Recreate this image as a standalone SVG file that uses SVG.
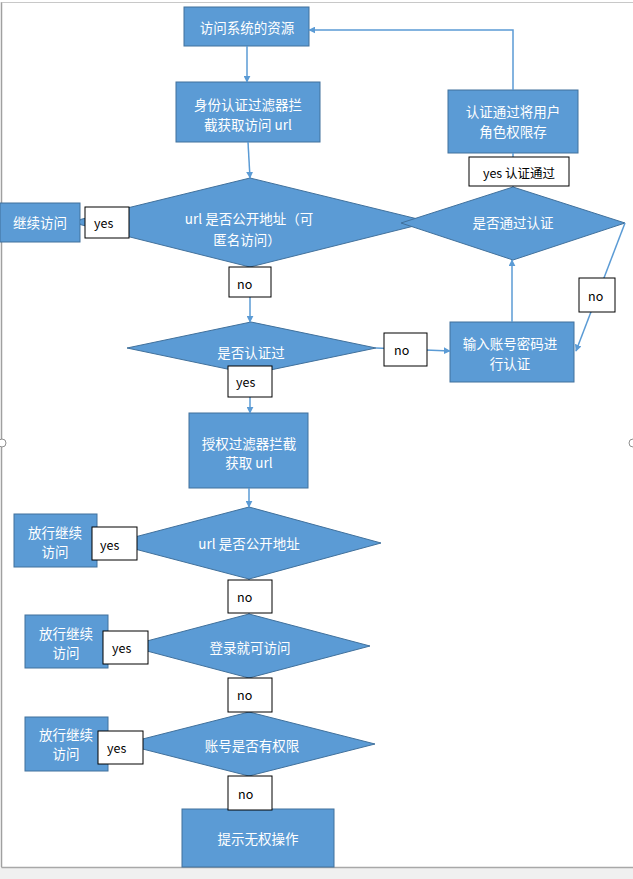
<svg xmlns="http://www.w3.org/2000/svg" width="633" height="879" viewBox="0 0 633 879">
<defs>
<marker id="ah" viewBox="0 0 10 10" refX="9" refY="5" markerWidth="7" markerHeight="7" markerUnits="userSpaceOnUse" orient="auto">
<path d="M0,0 L10,5 L0,10 z" fill="#5b9bd5"/>
</marker>
<style>
.n{fill:#5b9bd5;stroke:#41719c;stroke-width:1}
.t{font-family:"Noto Sans CJK SC","Liberation Sans",sans-serif;font-size:13.5px;fill:#ffffff;text-anchor:middle;dominant-baseline:central}
.lb{fill:#ffffff;stroke:#000000;stroke-width:1}
.lt{font-family:"Noto Sans CJK SC","Liberation Sans",sans-serif;font-size:12.5px;fill:#000000;dominant-baseline:central}
.c{fill:none;stroke:#5b9bd5;stroke-width:1.5}
.ca{fill:none;stroke:#5b9bd5;stroke-width:1.5;marker-end:url(#ah)}
</style>
</defs>
<rect x="0" y="0" width="633" height="879" fill="#ffffff"/>
<rect x="0" y="868" width="633" height="11" fill="#f0f0f0"/>
<line x1="1.5" y1="2" x2="1.5" y2="867.5" stroke="#a0a0a0" stroke-width="1.5"/>
<line x1="1.5" y1="2.5" x2="633" y2="2.5" stroke="#c8c8c8" stroke-width="1"/>
<line x1="1.5" y1="867.5" x2="633" y2="867.5" stroke="#a8a8a8" stroke-width="1.5"/>
<circle cx="2" cy="443" r="4" fill="#ffffff" stroke="#909090" stroke-width="1"/>
<circle cx="633" cy="443" r="4" fill="#ffffff" stroke="#909090" stroke-width="1"/>

<g id="nodeA"><rect class="n" x="184" y="7" width="125" height="39"/><text class="t" x="247" y="27">访问系统的资源</text></g>
<g id="nodeB"><rect class="n" x="176" y="82" width="144" height="60"/><text class="t" x="248" y="104">身份认证过滤器拦</text><text class="t" x="248" y="124">截获取访问 url</text></g>
<g id="nodeF"><rect class="n" x="448" y="90" width="130" height="63"/><text class="t" x="513" y="111">认证通过将用户</text><text class="t" x="513" y="131">角色权限存</text></g>
<g id="nodeD1"><polygon class="n" points="250,178 430,222 250,267 70,222"/><text class="t" x="249" y="218">url 是否公开地址（可</text><text class="t" x="247" y="239">匿名访问）</text></g>
<g id="nodeD2"><polygon class="n" points="513,187 625,223 513,260 401,223"/><text class="t" x="513" y="222">是否通过认证</text></g>
<g id="nodeC1"><rect class="n" x="0" y="203" width="80" height="39"/><text class="t" x="40" y="222">继续访问</text></g>
<g id="nodeD3"><polygon class="n" points="251,322 376,348 251,374 127,348"/><text class="t" x="251" y="352">是否认证过</text></g>
<g id="nodeE"><rect class="n" x="450" y="322" width="124" height="60"/><text class="t" x="510" y="343">输入账号密码进</text><text class="t" x="510" y="363">行认证</text></g>
<g id="nodeG"><rect class="n" x="189" y="413" width="119" height="75"/><text class="t" x="249" y="443">授权过滤器拦截</text><text class="t" x="249" y="462">获取 url</text></g>
<g id="nodeD4"><polygon class="n" points="249,507 381,543 249,579 112,543"/><text class="t" x="249" y="543">url 是否公开地址</text></g>
<g id="nodeP1"><rect class="n" x="14" y="514" width="83" height="53"/><text class="t" x="55" y="532">放行继续</text><text class="t" x="55" y="551">访问</text></g>
<g id="nodeD5"><polygon class="n" points="249,614 370,646 249,678 128,646"/><text class="t" x="250" y="647">登录就可访问</text></g>
<g id="nodeP2"><rect class="n" x="25" y="615" width="83" height="53"/><text class="t" x="66" y="633">放行继续</text><text class="t" x="66" y="652">访问</text></g>
<g id="nodeD6"><polygon class="n" points="249,712 375,744 249,776 123,744"/><text class="t" x="252" y="745">账号是否有权限</text></g>
<g id="nodeP3"><rect class="n" x="25" y="717" width="83" height="54"/><text class="t" x="66" y="734">放行继续</text><text class="t" x="66" y="753">访问</text></g>
<g id="nodeH"><rect class="n" x="182" y="809" width="152" height="58"/><text class="t" x="258" y="838">提示无权操作</text></g>

<g id="connectors">
<line class="ca" x1="247" y1="46" x2="247" y2="82"/>
<line class="ca" x1="248" y1="142" x2="250" y2="178"/>
<line class="ca" x1="250" y1="267" x2="250" y2="322"/>
<line class="ca" x1="376" y1="348" x2="450" y2="351"/>
<line class="ca" x1="512" y1="322" x2="512" y2="260"/>
<line class="ca" x1="625" y1="223" x2="576" y2="351"/>
<line class="c" x1="513" y1="187" x2="513" y2="153"/>
<polyline class="ca" points="513,90 513,30 309,30"/>
<line class="c" x1="84" y1="222" x2="80" y2="222"/>
<line class="ca" x1="250" y1="374" x2="250" y2="413"/>
<line class="ca" x1="249" y1="488" x2="249" y2="507"/>
<line class="c" x1="249" y1="579" x2="249" y2="614"/>
<line class="c" x1="249" y1="678" x2="249" y2="712"/>
<line class="c" x1="249" y1="776" x2="249" y2="809"/>
<line class="c" x1="112" y1="543" x2="97" y2="543"/>
<line class="c" x1="128" y1="646" x2="108" y2="646"/>
<line class="c" x1="123" y1="744" x2="108" y2="744"/>
</g>

<g id="labels">
<g id="l1"><rect class="lb" x="85" y="207" width="44" height="31"/><text class="lt" x="94" y="222">yes</text></g>
<g id="l2"><rect class="lb" x="469" y="157" width="100" height="29"/><text class="lt" x="519" y="172" text-anchor="middle">yes 认证通过</text></g>
<g id="l3"><rect class="lb" x="229" y="267" width="42" height="30"/><text class="lt" x="237" y="283">no</text></g>
<g id="l4"><rect class="lb" x="384" y="333" width="43" height="33"/><text class="lt" x="394" y="349">no</text></g>
<g id="l5"><rect class="lb" x="579" y="278" width="36" height="34"/><text class="lt" x="588" y="295">no</text></g>
<g id="l6"><rect class="lb" x="228" y="366" width="44" height="31"/><text class="lt" x="236" y="381">yes</text></g>
<g id="l7"><rect class="lb" x="92" y="527" width="45" height="33"/><text class="lt" x="100" y="544">yes</text></g>
<g id="l8"><rect class="lb" x="228" y="580" width="44" height="33"/><text class="lt" x="237" y="596">no</text></g>
<g id="l9"><rect class="lb" x="103" y="631" width="45" height="33"/><text class="lt" x="112" y="647">yes</text></g>
<g id="l10"><rect class="lb" x="228" y="678" width="44" height="34"/><text class="lt" x="237" y="694">no</text></g>
<g id="l11"><rect class="lb" x="98" y="731" width="45" height="33"/><text class="lt" x="107" y="747">yes</text></g>
<g id="l12"><rect class="lb" x="228" y="776" width="44" height="34"/><text class="lt" x="238" y="793">no</text></g>
</g>
</svg>
